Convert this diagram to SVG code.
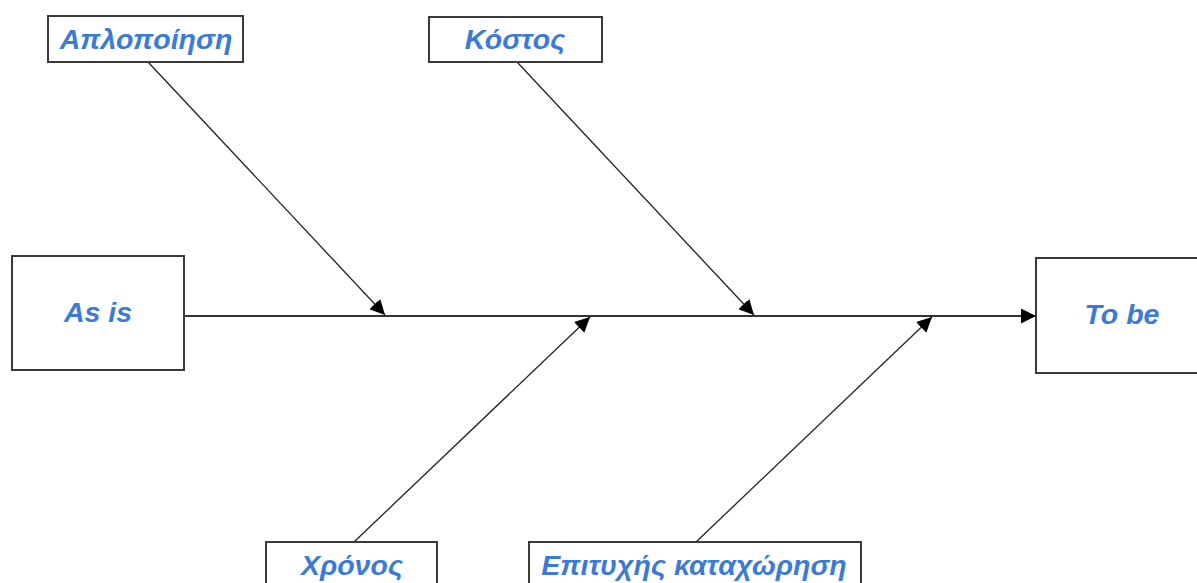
<svg xmlns="http://www.w3.org/2000/svg" width="1197" height="583" viewBox="0 0 1197 583">
<style>
.box{fill:#fff;stroke:#3a3a3a;stroke-width:2}
.lbl{font-family:"Liberation Sans",Arial,sans-serif;font-weight:bold;font-style:italic;font-size:28.5px;fill:#3b7bd6;text-anchor:middle}
.ln{stroke:#222;stroke-width:1.3;fill:none}
.main{stroke:#333;stroke-width:2;fill:none}
</style>
<defs>
<marker id="ah" viewBox="0 0 10 10" refX="10" refY="5" markerWidth="15" markerHeight="15" markerUnits="userSpaceOnUse" orient="auto">
<path d="M0,0 L10,5 L0,10 z" fill="#000"/>
</marker>
</defs>
<rect width="1197" height="583" fill="#fff"/>
<g id="connectors">
<line class="main" x1="184" y1="316" x2="1036" y2="316" marker-end="url(#ah)"/>
<line class="ln" x1="148" y1="62" x2="385" y2="315" marker-end="url(#ah)"/>
<line class="ln" x1="517" y1="62" x2="754" y2="315" marker-end="url(#ah)"/>
<line class="ln" x1="354" y1="542" x2="590" y2="317" marker-end="url(#ah)"/>
<line class="ln" x1="696" y1="542" x2="932" y2="317" marker-end="url(#ah)"/>
</g>
<g id="node-aploipoiisi">
<rect class="box" x="48" y="16" width="195" height="46"/>
<text class="lbl" x="146" y="49">Απλοποίηση</text>
</g>
<g id="node-kostos">
<rect class="box" x="429" y="17" width="173" height="45"/>
<text class="lbl" x="515" y="49">Κόστος</text>
</g>
<g id="node-asis">
<rect class="box" x="12" y="256" width="172" height="114"/>
<text class="lbl" x="98" y="322">As is</text>
</g>
<g id="node-tobe">
<rect class="box" x="1036" y="258" width="170" height="115"/>
<text class="lbl" x="1122" y="324">To be</text>
</g>
<g id="node-xronos">
<rect class="box" x="266" y="542" width="171" height="60"/>
<text class="lbl" x="352" y="575">Χρόνος</text>
</g>
<g id="node-epityxis">
<rect class="box" x="529" y="542" width="332" height="60"/>
<text class="lbl" x="694" y="575">Επιτυχής καταχώρηση</text>
</g>
</svg>
